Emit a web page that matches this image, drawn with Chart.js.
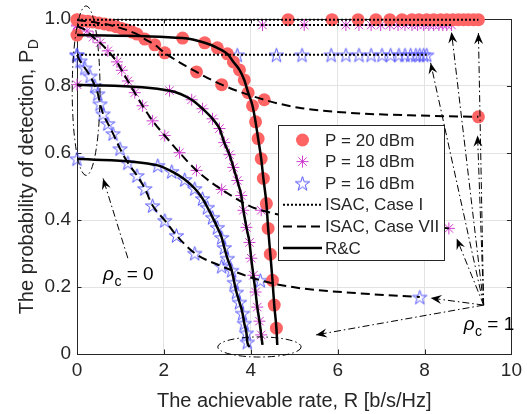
<!DOCTYPE html>
<html lang="en">
<head>
<meta charset="UTF-8">
<title>Probability of detection vs achievable rate</title>
<script src="https://cdn.jsdelivr.net/npm/chart.js"></script>
<style>
  body { margin: 0; background: #fff; }
  #wrap { width: 527px; height: 414px; }
</style>
</head>
<body>
<div id="wrap"><canvas id="pdChart"></canvas></div>
<script>
// values: x = achievable rate R [b/s/Hz], y = P_D
const xTicks = [0, 2, 4, 6, 8, 10];
const yTicks = [0, 0.2, 0.4, 0.6, 0.8, 1];
const powerLabels = ['P = 20 dBm', 'P = 18 dBm', 'P = 16 dBm'];
const schemeLabels = ['ISAC, Case I', 'ISAC, Case VII', 'R&C'];

// ISAC, Case I: flat P_D, markers along R
const c1Level = [0.998, 0.982, 0.893];
const c1R20 = [0, 4.86, 5.87, 6.47, 6.88, 7.20, 7.48, 7.71, 7.87, 8.05, 8.21, 8.37, 8.51, 8.65, 8.78, 8.90, 9.01, 9.13, 9.24];
const c1R18 = [0, 4.27, 5.23, 6.19, 6.49, 6.77, 6.99, 7.20, 7.39, 7.55, 7.71, 7.84, 7.98, 8.10, 8.21, 8.33, 8.42, 8.51, 8.62];
const c1R16 = [0, 3.69, 4.59, 5.18, 5.85, 6.19, 6.49, 6.77, 7.02, 7.22, 7.41, 7.55, 7.68, 7.80, 7.89, 7.98, 8.05];

// ISAC, Case VII (marker points, plus a few line-only points)
const c7R20 = [0, 0.12, 0.25, 0.37, 0.5, 0.63, 0.76, 0.9, 1.03, 1.15, 1.27, 1.38, 1.56, 1.79, 2.02, 2.75, 3.33, 4.31, 9.24];
const c7P20 = [0.997, 0.995, 0.993, 0.991, 0.988, 0.985, 0.982, 0.977, 0.972, 0.967, 0.961, 0.955, 0.940, 0.923, 0.899, 0.842, 0.804, 0.759, 0.708];
const c7ExtraR20 = [5.11, 6.26, 8.10];
const c7ExtraP20 = [0.735, 0.720, 0.711];
const c7R18 = [0, 0.23, 0.37, 0.53, 0.71, 0.92, 1.03, 1.17, 1.33, 1.51, 1.74, 2.02, 2.36, 2.75, 3.33, 4.24, 8.56];
const c7P18 = [0.979, 0.964, 0.946, 0.929, 0.905, 0.872, 0.847, 0.815, 0.780, 0.741, 0.696, 0.652, 0.601, 0.548, 0.491, 0.429, 0.375];
const c7R16 = [0, 0.07, 0.18, 0.30, 0.41, 0.48, 0.53, 0.60, 0.71, 0.83, 0.99, 1.17, 1.38, 1.56, 1.74, 2.02, 2.29, 2.71, 3.33, 4.22, 7.89];
const c7P16 = [0.893, 0.875, 0.854, 0.830, 0.801, 0.777, 0.747, 0.717, 0.688, 0.658, 0.613, 0.571, 0.533, 0.494, 0.443, 0.399, 0.354, 0.301, 0.262, 0.220, 0.170];
const c7ExtraR16 = [5.0, 6.5];
const c7ExtraP16 = [0.199, 0.181];

// R&C (last point ends the line, no marker)
const rcR20 = [0, 2.43, 2.94, 3.23, 3.46, 3.60, 3.74, 3.85, 3.94, 4.04, 4.11, 4.17, 4.24, 4.29, 4.36, 4.40, 4.45, 4.50, 4.54, 4.59, 4.61];
const rcP20 = [0.952, 0.943, 0.929, 0.914, 0.896, 0.872, 0.848, 0.818, 0.780, 0.741, 0.693, 0.643, 0.583, 0.524, 0.449, 0.375, 0.298, 0.220, 0.146, 0.077, 0.027];
const rcR18 = [0, 2.13, 2.64, 2.89, 3.12, 3.28, 3.39, 3.51, 3.60, 3.69, 3.78, 3.83, 3.90, 3.97, 4.01, 4.06, 4.11, 4.15, 4.20, 4.24, 4.27];
const rcP18 = [0.804, 0.786, 0.759, 0.732, 0.702, 0.673, 0.631, 0.595, 0.557, 0.518, 0.473, 0.429, 0.378, 0.333, 0.286, 0.235, 0.185, 0.140, 0.098, 0.057, 0.027];
const rcR16 = [0, 1.86, 2.18, 2.48, 2.71, 2.89, 3.00, 3.12, 3.23, 3.33, 3.39, 3.46, 3.56, 3.62, 3.67, 3.74, 3.81, 3.85, 3.90, 3.92, 3.97];
const rcP16 = [0.583, 0.563, 0.545, 0.521, 0.494, 0.464, 0.438, 0.408, 0.378, 0.348, 0.318, 0.286, 0.250, 0.214, 0.185, 0.155, 0.122, 0.092, 0.063, 0.036, 0.021];

// annotations, in data units
const rho1Hub = [9.36, 0.146];
const rho1Tips = [[9.24, 0.958], [8.62, 0.961], [8.14, 0.869], [9.22, 0.652], [8.74, 0.345], [8.14, 0.167], [5.50, 0.057]];
const rho0Arrow = [[1.17, 0.286], [0.60, 0.524]];
const ellipses = [[0.21, 0.786, 0.32, 0.253], [4.20, 0.021, 0.96, 0.03]];

const FONT = '"Liberation Sans", Arial, sans-serif';
const TXT = '#262626';
const RED = '#FF6464', MAG = '#D040D0', BLUE = '#5555FF';

function pentagram(size, color) {
    const c = document.createElement('canvas');
    c.width = size; c.height = size;
    const g = c.getContext('2d');
    const R = size / 2 - 1, r = R * 0.382;
    g.beginPath();
    for (let i = 0; i < 10; i++) {
        const rad = i % 2 ? r : R;
        const a = -Math.PI / 2 + i * Math.PI / 5;
        g.lineTo(size / 2 + rad * Math.cos(a), size / 2 + 0.8 + rad * Math.sin(a));
    }
    g.closePath();
    g.strokeStyle = color; g.lineWidth = 1; g.stroke();
    return c;
}
const starImg = pentagram(17, BLUE);

function xy(rs, ps) {
    return rs.map((r, i) => ({ x: r, y: Array.isArray(ps) ? ps[i] : ps }));
}
function withExtra(rs, ps, er, ep) {
    return xy(rs, ps).concat(xy(er, ep)).sort((a, b) => a.x - b.x);
}

const markerStyle = [
    { pointStyle: 'circle', pointRadius: 6.5, pointBackgroundColor: RED, pointBorderColor: RED, pointBorderWidth: 0 },
    { pointStyle: 'star', pointRadius: 6, pointBackgroundColor: MAG, pointBorderColor: MAG, pointBorderWidth: 1 },
    { pointStyle: starImg, pointRadius: 8, pointBackgroundColor: BLUE, pointBorderColor: BLUE, pointBorderWidth: 1 }
];
const lineStyle = [
    { borderDash: [2, 2], borderWidth: 2 },
    { borderDash: [9, 5], borderWidth: 2 },
    { borderDash: [], borderWidth: 2.5 }
];

function lineSet(data, s) {
    return Object.assign({ data: data, borderColor: '#000', pointRadius: 0, fill: false,
        cubicInterpolationMode: 'monotone', clip: false }, lineStyle[s]);
}
function markSet(data, p) {
    return Object.assign({ data: data, showLine: false, clip: false }, markerStyle[p]);
}

const lines = [
    lineSet(xy([0, c1R20[c1R20.length - 1]], c1Level[0]), 0),
    lineSet(xy([0, c1R18[c1R18.length - 1]], c1Level[1]), 0),
    lineSet(xy([0, c1R16[c1R16.length - 1]], c1Level[2]), 0),
    lineSet(withExtra(c7R20, c7P20, c7ExtraR20, c7ExtraP20), 1),
    lineSet(xy(c7R18, c7P18), 1),
    lineSet(withExtra(c7R16, c7P16, c7ExtraR16, c7ExtraP16), 1),
    lineSet(xy(rcR20, rcP20), 2),
    lineSet(xy(rcR18, rcP18), 2),
    lineSet(xy(rcR16, rcP16), 2)
];
const marks = [
    markSet(xy(c1R20, c1Level[0]), 0),
    markSet(xy(c7R20, c7P20), 0),
    markSet(xy(rcR20.slice(0, -1), rcP20.slice(0, -1)), 0),
    markSet(xy(c1R18, c1Level[1]), 1),
    markSet(xy(c7R18, c7P18), 1),
    markSet(xy(rcR18.slice(0, -1), rcP18.slice(0, -1)), 1),
    markSet(xy(c1R16, c1Level[2]), 2),
    markSet(xy(c7R16, c7P16), 2),
    markSet(xy(rcR16.slice(0, -1), rcP16.slice(0, -1)), 2)
];

function arrow(ctx, x0, y0, x1, y1) {
    ctx.setLineDash([7, 3, 1.5, 3]);
    ctx.beginPath(); ctx.moveTo(x0, y0); ctx.lineTo(x1, y1); ctx.stroke();
    const a = Math.atan2(y1 - y0, x1 - x0), L = 11, W = 4.5;
    const bx = x1 - L * Math.cos(a), by = y1 - L * Math.sin(a);
    const nx = x1 - 0.65 * L * Math.cos(a), ny = y1 - 0.65 * L * Math.sin(a);
    ctx.setLineDash([]);
    ctx.beginPath();
    ctx.moveTo(x1, y1);
    ctx.lineTo(bx - W * Math.sin(a), by + W * Math.cos(a));
    ctx.lineTo(nx, ny);
    ctx.lineTo(bx + W * Math.sin(a), by - W * Math.cos(a));
    ctx.closePath(); ctx.fill();
}

function rhoText(ctx, x, y, tail) {
    ctx.textAlign = 'left'; ctx.textBaseline = 'alphabetic';
    ctx.font = 'italic 19px ' + FONT;
    ctx.fillText('\u03C1', x, y);
    let w = ctx.measureText('\u03C1').width;
    ctx.font = '14px ' + FONT;
    ctx.fillText('c', x + w + 0.5, y + 6);
    w += ctx.measureText('c').width + 0.5;
    ctx.font = '19px ' + FONT;
    ctx.fillText(tail, x + w, y);
}

const decor = {
    id: 'decor',
    beforeDatasetsDraw(chart) {
        const { ctx, chartArea: a, scales: { x, y } } = chart;
        ctx.save();
        ctx.strokeStyle = TXT; ctx.lineWidth = 1;
        ctx.strokeRect(Math.round(a.left) + 0.5, Math.round(a.top) + 0.5,
            Math.round(a.right - a.left), Math.round(a.bottom - a.top));
        ctx.beginPath();
        xTicks.forEach(t => {
            const px = Math.round(x.getPixelForValue(t)) + 0.5;
            ctx.moveTo(px, a.bottom); ctx.lineTo(px, a.bottom - 4.5);
            ctx.moveTo(px, a.top); ctx.lineTo(px, a.top + 4.5);
        });
        yTicks.forEach(t => {
            const py = Math.round(y.getPixelForValue(t)) + 0.5;
            ctx.moveTo(a.left, py); ctx.lineTo(a.left + 4.5, py);
            ctx.moveTo(a.right, py); ctx.lineTo(a.right - 4.5, py);
        });
        ctx.stroke();
        ctx.restore();
    },
    afterDatasetsDraw(chart) {
        const { ctx, chartArea: a, scales: { x, y } } = chart;
        const X = v => x.getPixelForValue(v), Y = v => y.getPixelForValue(v);
        ctx.save();

        // legend
        const lx = 278.5, ly = 125.5, lw = 166, lh = 135;
        ctx.fillStyle = '#fff'; ctx.fillRect(lx, ly, lw, lh);
        ctx.strokeStyle = TXT; ctx.lineWidth = 1; ctx.setLineDash([]);
        ctx.strokeRect(lx, ly, lw, lh);
        const rowY = i => 140 + i * 21.6;
        const sx0 = 283, sx1 = 322, tx = 325;
        ctx.font = '17px ' + FONT; ctx.textBaseline = 'middle'; ctx.textAlign = 'left';
        powerLabels.concat(schemeLabels).forEach((lab, i) => {
            const cy = rowY(i);
            if (i < 3) {
                const st = markerStyle[i];
                if (i === 2) {
                    ctx.drawImage(starImg, (sx0 + sx1) / 2 - 8.5, cy - 8.5);
                } else {
                    ctx.strokeStyle = st.pointBorderColor; ctx.fillStyle = st.pointBackgroundColor;
                    ctx.lineWidth = 1;
                    Chart.helpers.drawPoint(ctx, { pointStyle: st.pointStyle, radius: st.pointRadius,
                        borderWidth: st.pointBorderWidth }, (sx0 + sx1) / 2, cy);
                }
            } else {
                const ls = lineStyle[i - 3];
                ctx.strokeStyle = '#000'; ctx.lineWidth = ls.borderWidth;
                ctx.setLineDash(ls.borderDash);
                ctx.beginPath(); ctx.moveTo(sx0, cy); ctx.lineTo(sx1, cy); ctx.stroke();
                ctx.setLineDash([]);
            }
            ctx.fillStyle = TXT;
            ctx.fillText(lab, tx, cy + 1);
        });

        // dash-dot ellipses and arrows
        ctx.strokeStyle = '#000'; ctx.fillStyle = '#000'; ctx.lineWidth = 1;
        ctx.setLineDash([7, 3, 1.5, 3]);
        ellipses.forEach(e => {
            const rx = X(e[0] + e[2]) - X(e[0]), ry = Y(e[1]) - Y(e[1] + e[3]);
            ctx.beginPath(); ctx.ellipse(X(e[0]), Y(e[1]), rx, ry, 0, 0, Math.PI * 2); ctx.stroke();
        });
        rho1Tips.forEach(t => arrow(ctx, X(rho1Hub[0]), Y(rho1Hub[1]), X(t[0]), Y(t[1])));
        arrow(ctx, X(rho0Arrow[0][0]), Y(rho0Arrow[0][1]), X(rho0Arrow[1][0]), Y(rho0Arrow[1][1]));

        ctx.fillStyle = '#000';
        rhoText(ctx, X(0.6), Y(0.22), ' = 0');
        rhoText(ctx, X(8.9), Y(0.071), ' = 1');

        // axis titles
        ctx.fillStyle = TXT;
        ctx.font = '20px ' + FONT; ctx.textAlign = 'center'; ctx.textBaseline = 'alphabetic';
        ctx.fillText('The achievable rate, R [b/s/Hz]', (a.left + a.right) / 2, 407);
        const main = 'The probability of detection, P';
        ctx.translate(33, 177);
        ctx.rotate(-Math.PI / 2);
        const wm = ctx.measureText(main).width;
        ctx.font = '14px ' + FONT;
        const wd = ctx.measureText('D').width;
        const start = -(wm + wd) / 2;
        ctx.font = '20px ' + FONT; ctx.textAlign = 'left';
        ctx.fillText(main, start, 0);
        ctx.font = '14px ' + FONT;
        ctx.fillText('D', start + wm + 0.5, 5);
        ctx.restore();
    }
};

new Chart(document.getElementById('pdChart'), {
    type: 'line',
    data: { datasets: lines.concat(marks) },
    options: {
        responsive: true,
        maintainAspectRatio: false,
        animation: false,
        layout: { padding: { top: 19, right: 14, left: 0, bottom: 0 } },
        plugins: { legend: { display: false }, tooltip: { enabled: false } },
        scales: {
            x: {
                type: 'linear', min: 0, max: 10,
                afterFit: s => { s.height = 60; },
                afterBuildTicks: s => { s.ticks = xTicks.map(v => ({ value: v })); },
                grid: { color: '#E3E3E3', drawTicks: false },
                border: { display: false },
                ticks: { color: TXT, padding: 5, font: { family: FONT, size: 19 } }
            },
            y: {
                type: 'linear', min: 0, max: 1,
                afterFit: s => { s.width = 77; },
                afterBuildTicks: s => { s.ticks = yTicks.map(v => ({ value: v })); },
                grid: { color: '#E3E3E3', drawTicks: false },
                border: { display: false },
                ticks: { color: TXT, padding: 6, font: { family: FONT, size: 19 } }
            }
        }
    },
    plugins: [decor]
});
</script>
</body>
</html>
